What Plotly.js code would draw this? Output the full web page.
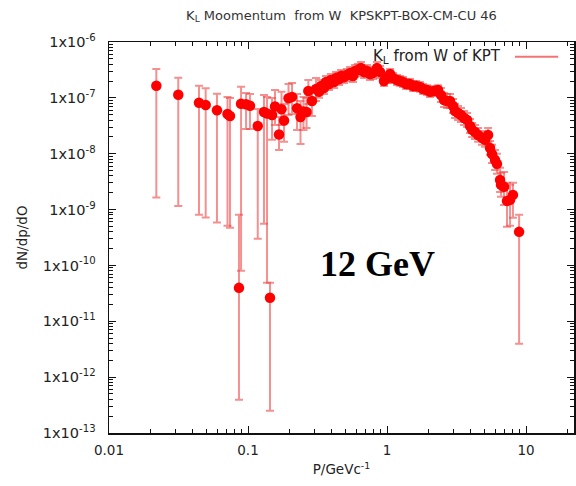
<!DOCTYPE html>
<html>
<head>
<meta charset="utf-8">
<script src="https://cdn.plot.ly/plotly-3.0.1.min.js"></script>
<style>html,body{margin:0;padding:0;background:#fff;}#chart{width:576px;height:486px;}</style>
</head>
<body>
<div id="chart"></div>
<script>
// Momentum P (GeV/c)
const pX = [0.0219,0.0315,0.0444,0.0496,0.0598,0.0712,0.0742,0.0861,0.0891,0.0968,0.1033,0.1175,0.1303,0.137,0.1439,0.1489,0.1564,0.1671,0.1742,0.1816,0.1956,0.2073,0.2252,0.2386,0.2506,0.2636,0.2716,0.2884,0.3083,
  0.324,0.335,0.352,0.364,0.383,0.395,0.416,0.430,0.452,0.467,0.491,0.515,0.542,0.569,0.589,0.618,0.650,0.684,0.718,0.755,0.793,0.847,0.891,
  0.951,1.000,1.052,1.104,1.180,1.241,1.303,1.371,1.463,1.538,1.618,1.726,1.816,1.941,2.037,2.178,2.328,
  2.443,2.570,2.704,2.838,2.985,3.083,3.243,3.404,3.581,3.767,3.954,4.093,4.295,4.519,4.822,5.070,5.333,5.508,
  5.689,5.984,6.180,6.501,6.607,6.950,7.295,7.674,8.054,8.913];
// dN/dp/dO central values
const dNdp = [1.65e-7,1.14e-7,8.20e-8,7.46e-8,6.00e-8,5.15e-8,4.74e-8,3.97e-11,7.87e-8,7.67e-8,7.24e-8,3.14e-8,5.60e-8,5.26e-8,2.63e-11,4.94e-8,7.02e-8,2.21e-8,6.25e-8,3.94e-8,9.84e-8,1.04e-7,6.52e-8,4.55e-8,5.71e-8,5.60e-8,1.33e-7,8.81e-8,1.44e-7,
  1.28e-7,1.63e-7,1.50e-7,1.92e-7,1.77e-7,2.09e-7,1.92e-7,2.27e-7,2.18e-7,2.47e-7,2.37e-7,2.57e-7,2.79e-7,2.47e-7,3.03e-7,3.16e-7,3.43e-7,2.90e-7,3.03e-7,2.68e-7,2.79e-7,3.43e-7,2.90e-7,
  2.00e-7,2.27e-7,2.68e-7,2.27e-7,2.09e-7,2.00e-7,1.92e-7,1.77e-7,1.77e-7,1.63e-7,1.63e-7,1.57e-7,1.44e-7,1.38e-7,1.28e-7,1.33e-7,1.38e-7,
  1.127e-7,9.16e-8,8.81e-8,8.81e-8,7.16e-8,5.83e-8,5.37e-8,4.94e-8,4.37e-8,4.03e-8,3.14e-8,2.67e-8,2.45e-8,2.17e-8,1.92e-8,1.77e-8,2.17e-8,1.27e-8,
  9.91e-9,7.74e-9,6.58e-9,3.40e-9,2.77e-9,2.55e-9,1.43e-9,1.49e-9,1.83e-9,3.99e-10];
// upper end of error bar
const dNdpHi = [3.29e-7,2.30e-7,1.65e-7,1.49e-7,1.19e-7,1.04e-7,9.95e-8,8.04e-10,1.585e-7,1.22e-7,1.175e-7,6.32e-8,1.127e-7,1.04e-7,4.89e-11,9.95e-8,1.38e-7,4.55e-8,1.28e-7,7.78e-8,1.77e-7,1.85e-7,1.175e-7,8.81e-8,1.04e-7,9.95e-8,2.09e-7,1.50e-7,2.27e-7,
  1.64e-7,2.09e-7,1.92e-7,2.46e-7,2.27e-7,2.68e-7,2.46e-7,2.91e-7,2.79e-7,3.16e-7,3.03e-7,3.29e-7,3.57e-7,3.16e-7,3.88e-7,4.04e-7,4.39e-7,3.71e-7,3.88e-7,3.43e-7,3.57e-7,4.39e-7,3.71e-7,
  2.46e-7,2.79e-7,3.29e-7,2.79e-7,2.57e-7,2.46e-7,2.36e-7,2.17e-7,2.17e-7,2.00e-7,2.00e-7,1.93e-7,1.77e-7,1.69e-7,1.57e-7,1.63e-7,1.69e-7,
  1.50e-7,1.22e-7,1.175e-7,1.175e-7,9.55e-8,7.78e-8,7.16e-8,6.59e-8,5.83e-8,5.38e-8,4.19e-8,3.56e-8,3.27e-8,2.89e-8,2.56e-8,2.36e-8,2.89e-8,1.69e-8,
  1.44e-8,1.17e-8,9.94e-9,5.58e-9,4.54e-9,4.72e-9,3.01e-9,2.77e-9,3.01e-9,8.04e-10];
// lower end of error bar
const dNdpLo = [1.64e-9,1.16e-9,8.04e-10,7.19e-10,5.85e-10,5.11e-10,4.71e-10,3.94e-13,8.0e-11,2.78e-8,2.78e-8,2.99e-10,5.55e-10,4.89e-11,2.51e-13,1.77e-8,3.27e-8,1.17e-8,3.27e-8,1.63e-8,4.94e-8,5.15e-8,2.67e-8,1.50e-8,2.67e-8,2.90e-8,7.78e-8,4.74e-8,8.81e-8,
  1.00e-7,1.27e-7,1.17e-7,1.50e-7,1.38e-7,1.63e-7,1.50e-7,1.77e-7,1.70e-7,1.93e-7,1.85e-7,2.01e-7,2.18e-7,1.93e-7,2.37e-7,2.47e-7,2.68e-7,2.27e-7,2.37e-7,2.09e-7,2.18e-7,2.68e-7,2.27e-7,
  1.63e-7,1.85e-7,2.18e-7,1.85e-7,1.70e-7,1.63e-7,1.56e-7,1.44e-7,1.44e-7,1.33e-7,1.33e-7,1.28e-7,1.17e-7,1.12e-7,1.04e-7,1.08e-7,1.12e-7,
  8.45e-8,6.87e-8,6.60e-8,6.60e-8,5.37e-8,4.37e-8,4.03e-8,3.70e-8,3.28e-8,3.02e-8,2.35e-8,2.00e-8,1.84e-8,1.63e-8,1.44e-8,1.33e-8,1.63e-8,9.52e-9,
  6.84e-9,5.13e-9,4.36e-9,2.07e-9,1.69e-9,1.21e-9,4.91e-10,5.11e-10,7.11e-10,3.95e-12];

const xTickVals = [0.01, 0.1, 1, 10];
const xTickText = ['0.01', '0.1', '1', '10'];
const yTickVals = [1e-13,1e-12,1e-11,1e-10,1e-9,1e-8,1e-7,1e-6];
const yTickText = ['1x10<sup>-13</sup>','1x10<sup>-12</sup>','1x10<sup>-11</sup>','1x10<sup>-10</sup>','1x10<sup>-9</sup>','1x10<sup>-8</sup>','1x10<sup>-7</sup>','1x10<sup>-6</sup>'];

const seriesName = 'K<sub>L</sub> from W of KPT';
const titleText = 'K<sub>L</sub> Moomentum\u00a0 from W\u00a0 KPSKPT-BOX-CM-CU 46';
const energyLabel = '12 GeV';

function minorLogVals(d0, d1) {
  const out = [];
  for (let d = d0; d <= d1; d++) for (let m = 2; m <= 9; m++) out.push(m * Math.pow(10, d));
  return out;
}

const errPlus = dNdp.map((v, i) => dNdpHi[i] - v);
const errMinus = dNdp.map((v, i) => v - dNdpLo[i]);

const trace = {
  x: pX, y: dNdp, type: 'scatter', mode: 'markers',
  name: seriesName, showlegend: false,
  marker: {color: '#ff0000', size: 10.5, line: {width: 0}},
  error_y: {type: 'data', symmetric: false, array: errPlus, arrayminus: errMinus,
            color: 'rgba(238,70,70,0.6)', thickness: 2, width: 4}
};

const fam = 'DejaVu Sans, sans-serif';
const font = {family: fam, size: 13, color: '#222'};
const axisCommon = {
  type: 'log', showline: true, linecolor: '#111', linewidth: 1.5, mirror: 'allticks',
  ticks: 'inside', ticklen: 7, tickwidth: 1, tickcolor: '#111',
  showgrid: false, zeroline: false, tickmode: 'array'
};

const layout = {
  width: 576, height: 486,
  margin: {l: 109, r: 2, t: 42, b: 53},
  paper_bgcolor: '#fff', plot_bgcolor: '#fff',
  font: font,
  showlegend: false,
  title: {text: titleText, font: {family: fam, size: 13, color: '#333'},
          x: 0.5, xref: 'paper', xanchor: 'center', y: 1 - 15/486, yanchor: 'middle'},
  xaxis: Object.assign({}, axisCommon, {
    range: [-2, 1.345], tickvals: xTickVals, ticktext: xTickText,
    tickfont: {family: fam, size: 13.5, color: '#222'}, ticklabelstandoff: 4,
    minor: {tickmode: 'array', tickvals: minorLogVals(-2, 1), ticks: 'inside', ticklen: 4, tickcolor: '#111'},
    title: {text: 'P/GeVc<sup>-1</sup>', font: {family: fam, size: 13.5, color: '#222'}, standoff: 8}
  }),
  yaxis: Object.assign({}, axisCommon, {
    range: [-13, -6], tickvals: yTickVals, ticktext: yTickText,
    tickfont: {family: fam, size: 14.5, color: '#222'}, ticklabelstandoff: 9,
    minor: {tickmode: 'array', tickvals: minorLogVals(-13, -7), ticks: 'inside', ticklen: 4, tickcolor: '#111'},
    title: {text: 'dN/dp/dO', font: {family: fam, size: 13.5, color: '#222'}, standoff: 12}
  }),
  annotations: [
    {text: seriesName, xref: 'paper', yref: 'paper', x: 0.847, y: 0.962, xanchor: 'right', yanchor: 'middle',
     showarrow: false, font: {family: fam, size: 15, color: '#222'}},
    {text: '<b>' + energyLabel + '</b>', xref: 'paper', yref: 'paper', x: 0.578, y: 0.432, xanchor: 'center', yanchor: 'middle',
     showarrow: false, font: {family: 'Liberation Serif, serif', size: 36, color: '#000'}}
  ],
  shapes: [
    {type: 'line', xref: 'paper', yref: 'paper', x0: 0.873, x1: 0.966, y0: 0.962, y1: 0.962,
     line: {color: 'rgba(238,70,70,0.75)', width: 2}}
  ]
};

Plotly.newPlot('chart', [trace], layout, {displayModeBar: false, staticPlot: true});
</script>
</body>
</html>
